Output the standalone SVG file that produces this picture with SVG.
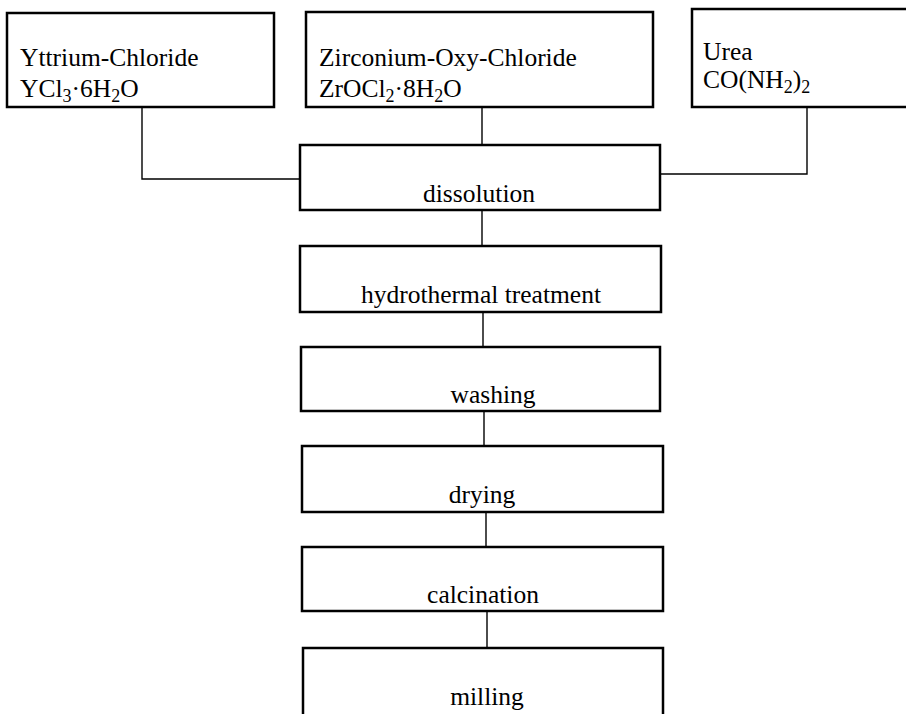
<svg xmlns="http://www.w3.org/2000/svg" width="906" height="714" viewBox="0 0 906 714">
<style>
.box{fill:#fff;stroke:#000;stroke-width:2.5}
.con{fill:none;stroke:#000;stroke-width:1.4}
text{font-family:"Liberation Serif","Times New Roman",serif;font-size:25.5px;fill:#000}
.c{text-anchor:middle}
.sub{font-size:18px}
</style>
<rect width="906" height="714" fill="#fff"/>
<g id="connectors">
<polyline class="con" points="142,107 142,179 300,179"/>
<polyline class="con" points="807,107 807,174 661,174"/>
<line class="con" x1="482" y1="107" x2="482" y2="145"/>
<line class="con" x1="482" y1="210" x2="482" y2="246"/>
<line class="con" x1="483" y1="312" x2="483" y2="347"/>
<line class="con" x1="484" y1="411" x2="484" y2="446"/>
<line class="con" x1="486" y1="512" x2="486" y2="547"/>
<line class="con" x1="487" y1="611" x2="487" y2="648"/>
</g>
<g id="yttrium">
<rect class="box" x="7" y="13" width="267" height="94"/>
<text x="20" y="66">Yttrium-Chloride</text>
<text x="20" y="97">YCl<tspan class="sub" dy="5">3</tspan><tspan dy="-5">·6H</tspan><tspan class="sub" dy="5">2</tspan><tspan dy="-5">O</tspan></text>
</g>
<g id="zirconium">
<rect class="box" x="306" y="12" width="347" height="95"/>
<text x="319" y="66">Zirconium-Oxy-Chloride</text>
<text x="319" y="97">ZrOCl<tspan class="sub" dy="5">2</tspan><tspan dy="-5">·8H</tspan><tspan class="sub" dy="5">2</tspan><tspan dy="-5">O</tspan></text>
</g>
<g id="urea">
<rect class="box" x="692" y="9" width="230" height="98"/>
<text x="703" y="60">Urea</text>
<text x="703" y="88">CO(NH<tspan class="sub" dy="5">2</tspan><tspan dy="-5">)</tspan><tspan class="sub" dy="5">2</tspan></text>
</g>
<g id="dissolution">
<rect class="box" x="300" y="145" width="360" height="65"/>
<text class="c" x="479" y="202">dissolution</text>
</g>
<g id="hydrothermal">
<rect class="box" x="300" y="246" width="361" height="66"/>
<text class="c" x="481" y="303">hydrothermal treatment</text>
</g>
<g id="washing">
<rect class="box" x="301" y="347" width="359" height="64"/>
<text class="c" x="493" y="403">washing</text>
</g>
<g id="drying">
<rect class="box" x="302" y="446" width="361" height="66"/>
<text class="c" x="482" y="503">drying</text>
</g>
<g id="calcination">
<rect class="box" x="302" y="547" width="361" height="64"/>
<text class="c" x="483" y="603">calcination</text>
</g>
<g id="milling">
<rect class="box" x="303" y="648" width="360" height="80"/>
<text class="c" x="487" y="705">milling</text>
</g>
</svg>
